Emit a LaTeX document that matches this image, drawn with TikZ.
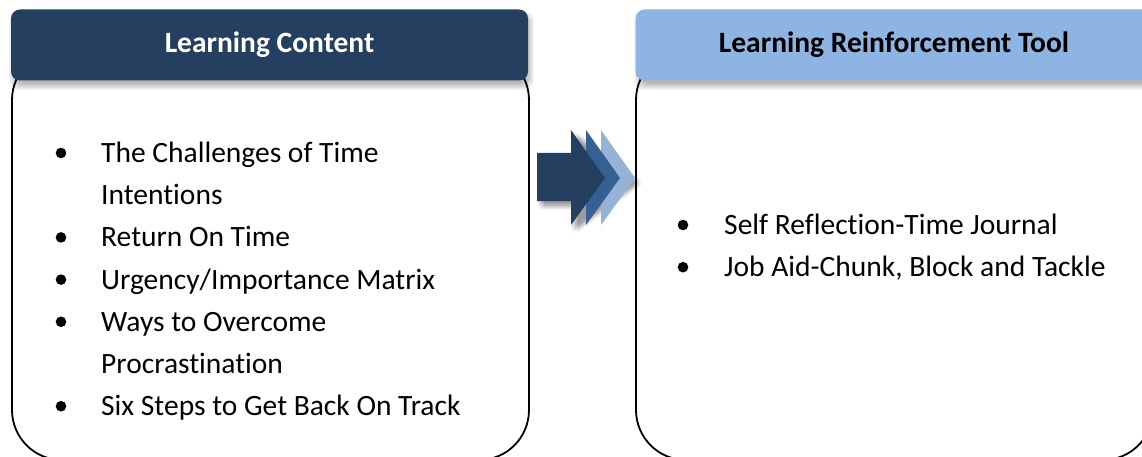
\documentclass[tikz,border=0pt]{standalone}
\usepackage{fontspec}
\setmainfont{Carlito}[Ligatures=NoCommon]
\begin{document}
\definecolor{navy}{HTML}{243F60}
\definecolor{midblue}{HTML}{376092}
\definecolor{paleblue}{HTML}{95B3D7}
\definecolor{headblue}{HTML}{8EB4E3}
\begin{tikzpicture}[x=1pt,y=-1pt,
  bodybox/.style={draw=black, line width=1.8pt, fill=white, rounded corners=50pt,
    minimum width=517pt, minimum height=410pt, inner sep=0pt},
  headbox/.style={rounded corners=9pt, minimum width=517pt, minimum height=71pt,
    inner sep=0pt, font=\fontsize{29.5}{33}\selectfont\bfseries},
  item/.style={anchor=base west, align=left, inner sep=0pt,
    font=\fontsize{29.5}{42.2}\selectfont},
  bulletdot/.style={fill=black}]
\useasboundingbox (0,0) rectangle (1142,457);
\clip (0,0) rectangle (1142,457);

% content panels
\node[bodybox] (contentbody) at (270.5,255) {};
\node[bodybox] (toolbody) at (894.5,255) {};

% soft shadows under the title bars
\foreach \e in {-3,-2,...,4}{
  \fill[black, opacity=0.04, rounded corners=9pt]
    (11+2-\e,10+5-\e) rectangle (528+2+\e,81+5+\e);
  \fill[black, opacity=0.04, rounded corners=9pt]
    (636+2-\e,10+5-\e) rectangle (1152+2+\e,81+5+\e);
}

% title bars
\node[headbox, fill=navy, text=white] (contenthead) at (269.5,45) {Learning Content};
\node[headbox, fill=headblue, text=black] (toolhead) at (894,45) {Learning Reinforcement Tool};

% bullet items, left panel (a node's base is its last line)
\node[item] (c1) at (101,204.7) {The Challenges of Time\\Intentions};
\node[item] (c2) at (101,246.9) {Return On Time};
\node[item] (c3) at (101,289.1) {Urgency/Importance Matrix};
\node[item] (c4) at (101,373.5) {Ways to Overcome\\Procrastination};
\node[item] (c5) at (101,415.7) {Six Steps to Get Back On Track};
\foreach \b in {162.5,246.9,289.1,331.3,415.7}
  \fill[bulletdot] (61,\b-9.5) circle (5.3pt);

% bullet items, right panel
\node[item] (t1) at (724,234.5) {Self Reflection-Time Journal};
\node[item] (t2) at (724,276.7) {Job Aid-Chunk, Block and Tackle};
\foreach \b in {234.5,276.7}
  \fill[bulletdot] (683,\b-9.5) circle (5.3pt);

% blurred shadow of the arrow
\foreach \dx in {1,2.5,4,5.5,7}{
  \foreach \dy in {2,3.5,5,6.5,8}{
    \fill[black, opacity=0.018, shift={(\dx,\dy)}]
      (537,153) -- (571,153) -- (571,130) -- (635,178) -- (571,225) -- (571,201) -- (537,201) -- cycle;
  }
}
% layered arrow
\fill[paleblue] (601,130) -- (635,178) -- (601,225) -- cycle;
\fill[midblue] (586,130) -- (620,178) -- (586,225) -- cycle;
\fill[navy] (537,153) -- (571,153) -- (571,130) -- (605,178) -- (571,225) -- (571,201) -- (537,201) -- cycle;
\end{tikzpicture}
\end{document}
